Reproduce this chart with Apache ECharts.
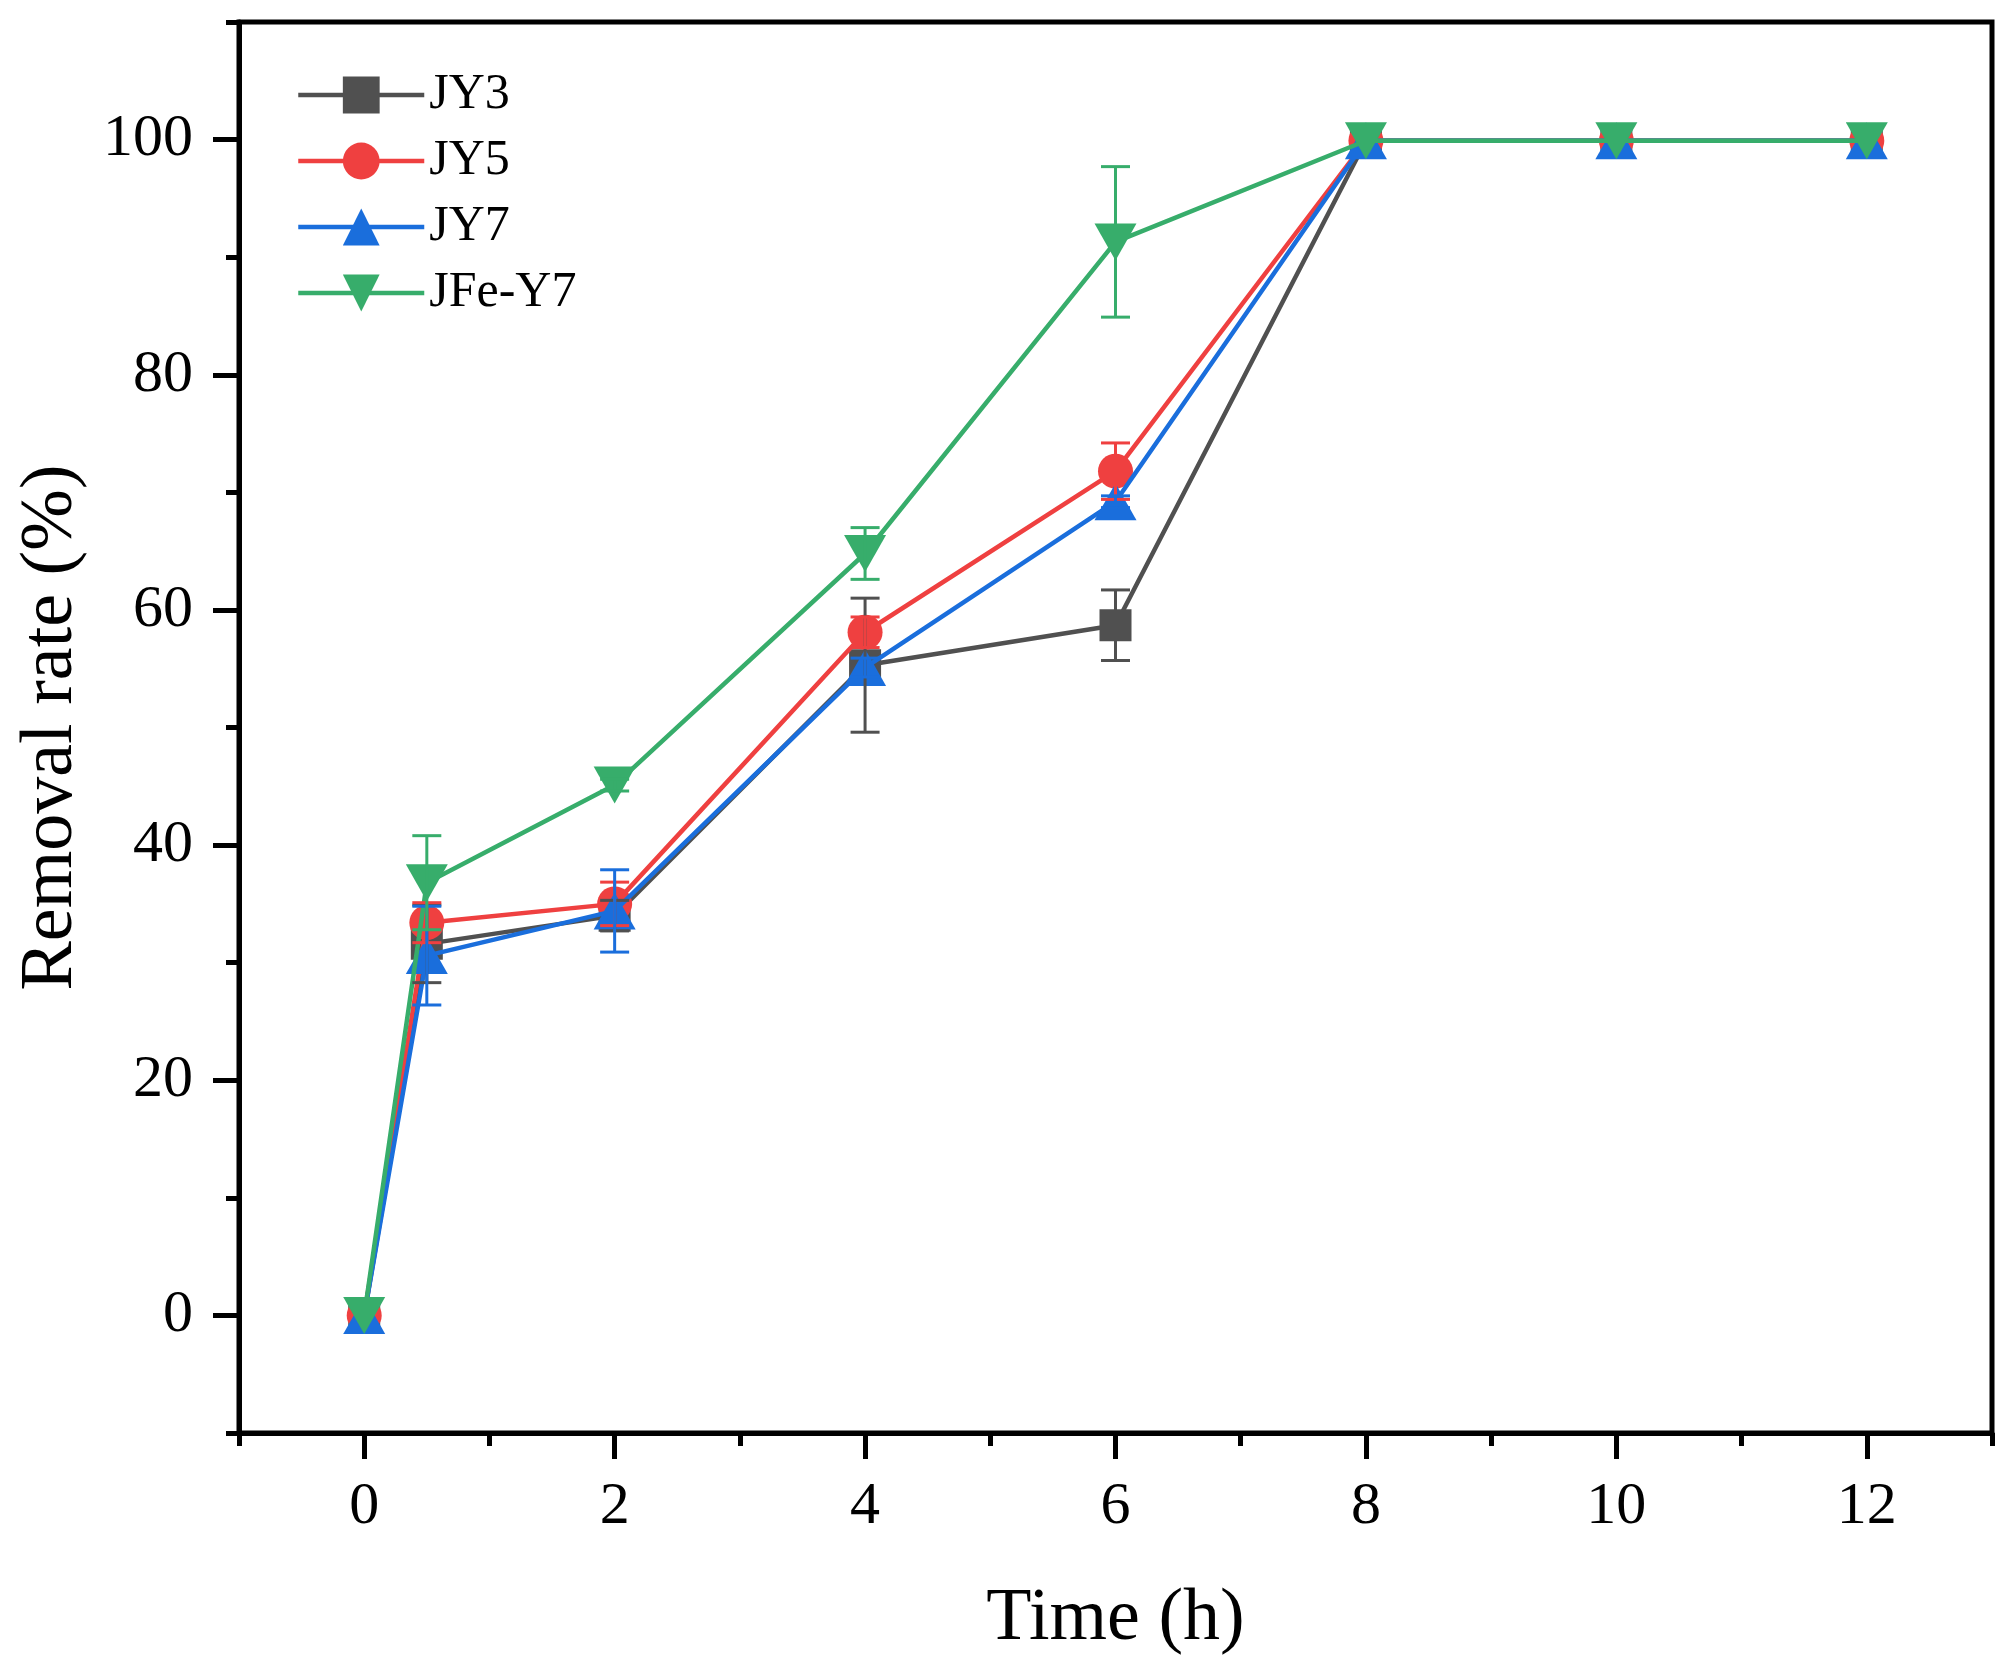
<!DOCTYPE html>
<html>
<head>
<meta charset="utf-8">
<script src="https://cdn.jsdelivr.net/npm/echarts@6/dist/echarts.min.js"></script>
<style>html,body{margin:0;padding:0;background:#fff;}#c{width:2005px;height:1669px;}</style>
</head>
<body>
<div id="c"></div>
<script>
// ---- data ----
const times = [0, 0.5, 2, 4, 6, 8, 10, 12];
const seriesNames = ['JY3', 'JY5', 'JY7', 'JFe-Y7'];
const jy3 = [0, 31.6, 34.0, 55.3, 58.7, 99.9, 99.9, 99.9];
const jy3Err = [0, 3.3, 1.3, 5.7, 3.0, 0, 0, 0];
const jy5 = [0, 33.4, 35.0, 58.1, 71.8, 99.9, 99.9, 99.9];
const jy5Err = [0, 1.7, 1.85, 1.3, 2.4, 0, 0, 0];
const jy7 = [0, 30.6, 34.4, 55.1, 69.2, 99.9, 99.9, 99.9];
const jy7Err = [0, 4.2, 3.5, 0.8, 0.5, 0, 0, 0];
const jfey7 = [0, 36.8, 45.1, 64.8, 91.3, 99.9, 99.9, 99.9];
const jfey7Err = [0, 4.0, 0.5, 2.2, 6.4, 0, 0, 0];
const xMajorTicks = [0, 2, 4, 6, 8, 10, 12];
const xMinorTicks = [-1, 1, 3, 5, 7, 9, 11, 13];
const yMajorTicks = [0, 20, 40, 60, 80, 100];
const yMinorTicks = [-10, 10, 30, 50, 70, 90, 110];

const colors = ['#505050', '#EF4040', '#1A6EDC', '#37AD6B'];
const symbols = ['rect', 'circle', 'triangle', 'path://M0,0 L10,0 L5,9 Z'];
const symbolSizes = [[32, 32], [35, 35], [42, 37], [42, 37]];
const values = [jy3, jy5, jy7, jfey7];
const errs = [jy3Err, jy5Err, jy7Err, jfey7Err];

const FONT = 'Liberation Serif';

const lineSeries = seriesNames.map((name, k) => ({
  name: name,
  type: 'line',
  xAxisIndex: 0,
  yAxisIndex: 0,
  data: times.map((t, i) => [t, values[k][i]]),
  symbol: symbols[k],
  symbolSize: symbolSizes[k],
  symbolKeepAspect: false,
  showAllSymbol: true,
  color: colors[k],
  lineStyle: { width: 4.5, color: colors[k] },
  itemStyle: { color: colors[k] },
  z: 2 + k * 0.01,
  animation: false
}));

const errSeries = seriesNames.map((name, k) => ({
  name: name + ' err',
  type: 'custom',
  xAxisIndex: 0,
  yAxisIndex: 0,
  data: times.map((t, i) => [t, values[k][i], errs[k][i]]),
  z: 3,
  silent: true,
  animation: false,
  renderItem: function (params, api) {
    const x = api.value(0), y = api.value(1), e = api.value(2);
    if (!(e > 0)) return null;
    const top = api.coord([x, y + e]);
    const bot = api.coord([x, y - e]);
    const hw = 14.5;
    const st = { stroke: colors[k], lineWidth: 3 };
    return {
      type: 'group',
      children: [
        { type: 'line', shape: { x1: top[0], y1: top[1], x2: bot[0], y2: bot[1] }, style: st },
        { type: 'line', shape: { x1: top[0] - hw, y1: top[1], x2: top[0] + hw, y2: top[1] }, style: st },
        { type: 'line', shape: { x1: bot[0] - hw, y1: bot[1], x2: bot[0] + hw, y2: bot[1] }, style: st }
      ]
    };
  }
}));

const chart = echarts.init(document.getElementById('c'), null, { renderer: 'canvas' });
chart.setOption({
  backgroundColor: '#ffffff',
  animation: false,
  textStyle: { fontFamily: FONT },
  grid: {
    left: 239, right: 13, top: 22, bottom: 236,
    containLabel: false, outerBoundsMode: 'none',
    show: true, borderColor: '#000', borderWidth: 5, backgroundColor: 'transparent'
  },
  legend: {
    data: seriesNames,
    orient: 'vertical',
    left: 291,
    top: 65,
    itemWidth: 126,
    itemHeight: 46,
    itemGap: 16,
    lineStyle: { width: 4.5 },
    textStyle: { fontFamily: FONT, fontSize: 50, color: '#000' }
  },
  xAxis: [
    {
      type: 'value', min: -1, max: 13,
      name: 'Time (h)', nameLocation: 'middle', nameGap: 150,
      nameTextStyle: { fontFamily: FONT, fontSize: 74, color: '#000' },
      axisLine: { show: true, onZero: false, lineStyle: { color: '#000', width: 5 } },
      axisTick: { show: true, inside: false, length: 26, customValues: xMajorTicks, lineStyle: { color: '#000', width: 5 } },
      axisLabel: { show: true, customValues: xMajorTicks, margin: 44, fontFamily: FONT, fontSize: 60, color: '#000' },
      splitLine: { show: false }
    },
    {
      type: 'value', min: -1, max: 13, position: 'bottom',
      axisLine: { show: false, onZero: false },
      axisTick: { show: true, inside: false, length: 13, customValues: xMinorTicks, lineStyle: { color: '#000', width: 5 } },
      axisLabel: { show: false },
      splitLine: { show: false }
    }
  ],
  yAxis: [
    {
      type: 'value', min: -10, max: 110,
      name: 'Removal rate (%)', nameLocation: 'middle', nameGap: 150,
      nameTextStyle: { fontFamily: FONT, fontSize: 74, color: '#000' },
      axisLine: { show: true, onZero: false, lineStyle: { color: '#000', width: 5 } },
      axisTick: { show: true, inside: false, length: 26, customValues: yMajorTicks, lineStyle: { color: '#000', width: 5 } },
      axisLabel: { show: true, customValues: yMajorTicks, margin: 46, fontFamily: FONT, fontSize: 60, color: '#000' },
      splitLine: { show: false }
    },
    {
      type: 'value', min: -10, max: 110, position: 'left',
      axisLine: { show: false, onZero: false },
      axisTick: { show: true, inside: false, length: 13, customValues: yMinorTicks, lineStyle: { color: '#000', width: 5 } },
      axisLabel: { show: false },
      splitLine: { show: false }
    }
  ],
  series: lineSeries.concat(errSeries)
});
</script>
</body>
</html>
